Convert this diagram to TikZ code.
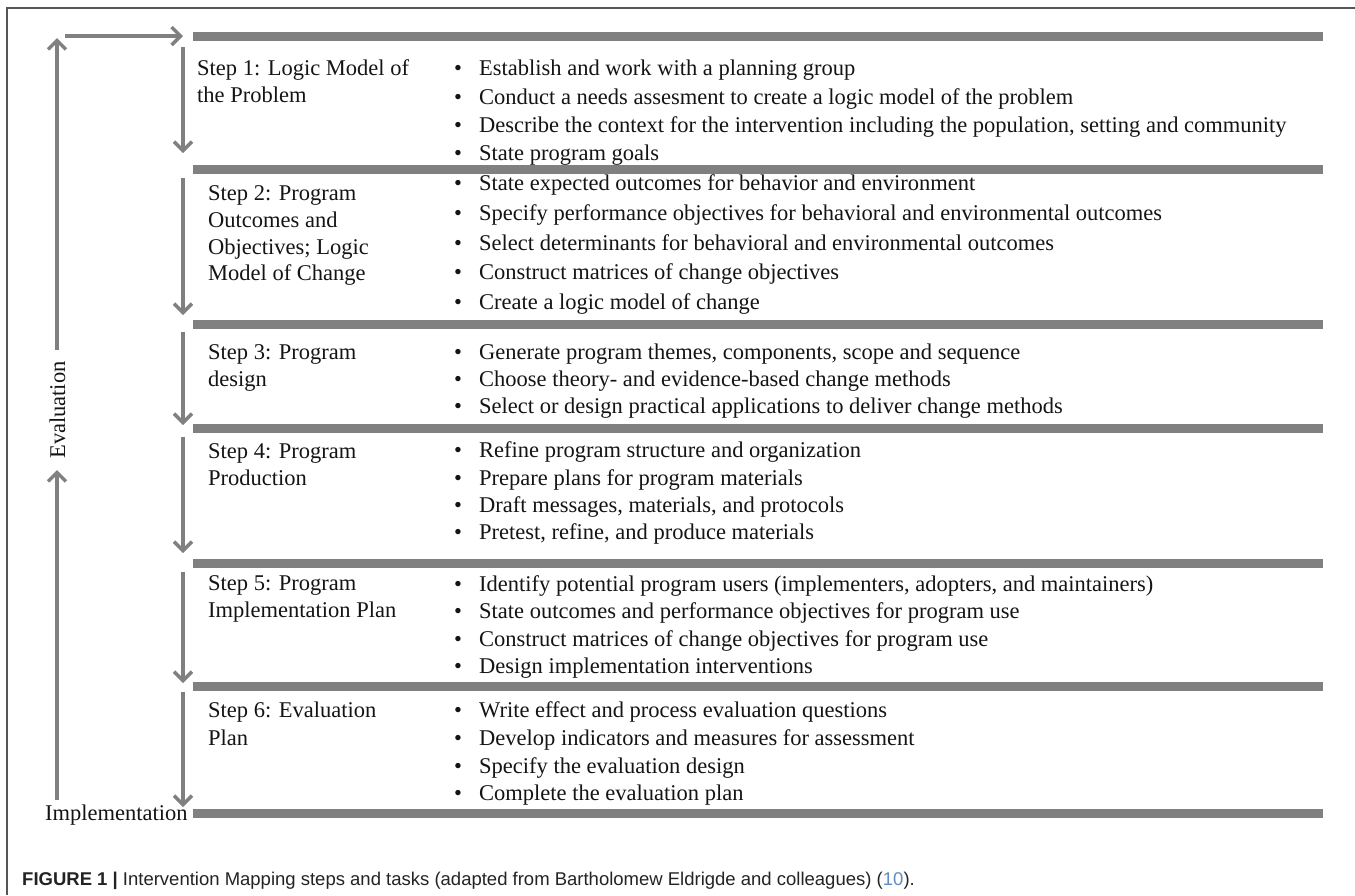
\documentclass[tikz,border=0pt]{standalone}
\usepackage{fontspec}
\setmainfont{Liberation Serif}
\newfontfamily\capfont{Liberation Sans}
\usetikzlibrary{arrows.meta}
\definecolor{barg}{RGB}{128,128,128}
\definecolor{frameg}{RGB}{85,85,85}
\definecolor{capg}{RGB}{35,35,35}
\definecolor{refblue}{RGB}{95,140,195}
\definecolor{inkc}{RGB}{20,20,20}
\newcommand\bulrow[3]{\node[btxt] (#1) at (454,#2) {\makebox[25pt][l]{\textbullet}#3};}
\newcommand\steprow[4]{\node[btxt] (#1) at (#2,#3) {#4};}
\begin{document}
\begin{tikzpicture}[x=1pt,y=-1pt,
  bar/.style={line width=9pt, draw=barg},
  flow/.style={line width=4pt, draw=barg, -{Straight Barb[length=9pt,width=18pt,line width=3.5pt]}},
  btxt/.style={anchor=base west, inner sep=0pt, font=\fontsize{22.5}{27}\selectfont, text=inkc},
  ]
\useasboundingbox (0,0) rectangle (1355,895);
\draw[frameg, line width=2pt] (7,895) -- (7,8) -- (1355,8);
% bars
\foreach \y [count=\i from 0] in {36.5,169.5,324,428,563.5,686,813}{
  \coordinate (bl\i) at (193,\y);
  \coordinate (br\i) at (1323,\y);
  \draw[bar] (bl\i) -- (br\i);
}
% down arrows
\foreach \s/\e [count=\i] in {47/153,178/315,332/425,437/553,572/683,692/807}{
  \coordinate (ds\i) at (183,\s);
  \coordinate (de\i) at (183,\e);
  \draw[flow] (ds\i) -- (de\i);
}
% left loop
\node[btxt, anchor=base, rotate=90] (eval) at (65,410) {Evaluation};
\node[btxt] (impl) at (45,820) {Implementation};
\coordinate (lu0) at (57,350);
\coordinate (lu1) at (57,38);
\coordinate (ll0) at (57,800);
\coordinate (ll1) at (57,470);
\coordinate (h0) at (65,36);
\coordinate (h1) at (183,36);
\draw[flow] (ll0) -- (ll1);
\draw[flow] (lu0) -- (lu1);
\draw[flow] (h0) -- (h1);
% step labels
\steprow{s1a}{197}{75.5}{Step 1: Logic Model of}
\steprow{s1b}{197}{102.5}{the Problem}
\steprow{s2a}{208}{200.8}{Step 2: Program}
\steprow{s2b}{208}{227.5}{Outcomes and}
\steprow{s2c}{208}{254.2}{Objectives; Logic}
\steprow{s2d}{208}{280.8}{Model of Change}
\steprow{s3a}{208}{359.5}{Step 3: Program}
\steprow{s3b}{208}{386.5}{design}
\steprow{s4a}{208}{458.5}{Step 4: Program}
\steprow{s4b}{208}{485.5}{Production}
\steprow{s5a}{208}{590.5}{Step 5: Program}
\steprow{s5b}{208}{617.5}{Implementation Plan}
\steprow{s6a}{208}{717.5}{Step 6: Evaluation}
\steprow{s6b}{208}{745}{Plan}
% bullets
\bulrow{t11}{75.5}{Establish and work with a planning group}
\bulrow{t12}{104}{Conduct a needs assesment to create a logic model of the problem}
\bulrow{t13}{132.5}{Describe the context for the intervention including the population, setting and community}
\bulrow{t14}{160.5}{State program goals}
\bulrow{t21}{190.5}{State expected outcomes for behavior and environment}
\bulrow{t22}{220}{Specify performance objectives for behavioral and environmental outcomes}
\bulrow{t23}{250}{Select determinants for behavioral and environmental outcomes}
\bulrow{t24}{279.5}{Construct matrices of change objectives}
\bulrow{t25}{309}{Create a logic model of change}
\bulrow{t31}{359.5}{Generate program themes, components, scope and sequence}
\bulrow{t32}{386.5}{Choose theory- and evidence-based change methods}
\bulrow{t33}{413.5}{Select or design practical applications to deliver change methods}
\bulrow{t41}{457.5}{Refine program structure and organization}
\bulrow{t42}{485.5}{Prepare plans for program materials}
\bulrow{t43}{512.5}{Draft messages, materials, and protocols}
\bulrow{t44}{539}{Pretest, refine, and produce materials}
\bulrow{t51}{591}{Identify potential program users (implementers, adopters, and maintainers)}
\bulrow{t52}{618.5}{State outcomes and performance objectives for program use}
\bulrow{t53}{646}{Construct matrices of change objectives for program use}
\bulrow{t54}{673.5}{Design implementation interventions}
\bulrow{t61}{717}{Write effect and process evaluation questions}
\bulrow{t62}{745}{Develop indicators and measures for assessment}
\bulrow{t63}{773}{Specify the evaluation design}
\bulrow{t64}{800}{Complete the evaluation plan}
% caption
\node[anchor=base west, inner sep=0pt, text=capg, font=\capfont\fontsize{18.5}{22}\selectfont] (cap) at (22,885)
  {\textbf{FIGURE 1 |} Intervention Mapping steps and tasks (adapted from Bartholomew Eldrigde and colleagues) ({\color{refblue}10}).};
\end{tikzpicture}
\end{document}
